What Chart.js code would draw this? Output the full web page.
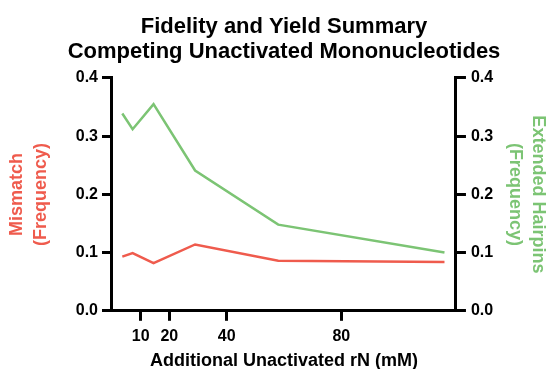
<!DOCTYPE html>
<html>
<head>
<meta charset="utf-8">
<script src="https://cdn.jsdelivr.net/npm/chart.js@4"></script>
<style>
  body { margin: 0; background: #fff; }
  #wrap { width: 547px; height: 369px; }
</style>
</head>
<body>
<div id="wrap"><canvas id="myChart"></canvas></div>
<script>
const concentrations = [3.6, 7.2, 14.5, 29, 58, 116];
const mismatch = [0.093, 0.099, 0.082, 0.114, 0.086, 0.084];
const hairpins = [0.339, 0.312, 0.355, 0.241, 0.148, 0.100];
const xTicks = [10, 20, 40, 80];
const yTicks = [0, 0.1, 0.2, 0.3, 0.4];

const red = '#ef5b4d';
const green = '#7cc474';
const fontFamily = "'Liberation Sans', Arial, sans-serif";
const tickFont = { family: fontFamily, size: 16, weight: 'bold' };

function axisLines() {
    return {
        border: { display: true, color: '#000', width: 3 },
        grid: {
            display: true, drawOnChartArea: false, drawTicks: true,
            color: '#000', lineWidth: 3, tickColor: '#000', tickWidth: 3, tickLength: 10,
            borderColor: '#000', borderWidth: 3
        }
    };
}

new Chart(document.getElementById('myChart'), {
    type: 'line',
    data: {
        datasets: [
            {
                label: 'Mismatch',
                data: concentrations.map((x, i) => ({ x: x, y: mismatch[i] })),
                borderColor: red,
                borderWidth: 2.5,
                pointRadius: 0,
                yAxisID: 'y'
            },
            {
                label: 'Extended Hairpins',
                data: concentrations.map((x, i) => ({ x: x, y: hairpins[i] })),
                borderColor: green,
                borderWidth: 2.5,
                pointRadius: 0,
                yAxisID: 'y1'
            }
        ]
    },
    options: {
        responsive: true,
        maintainAspectRatio: false,
        animation: false,
        // left padding shifts the main title so it centres over the plot
        layout: { padding: { left: 21, right: 0, top: 0, bottom: 0 } },
        scales: {
            x: {
                type: 'linear',
                min: 0,
                max: 120,
                ...axisLines(),
                afterBuildTicks: (axis) => { axis.ticks = xTicks.map(v => ({ value: v })); },
                ticks: { color: '#000', padding: 6, maxRotation: 0, font: tickFont },
                title: {
                    display: true,
                    text: 'Additional Unactivated rN (mM)',
                    color: '#000',
                    padding: { top: 0, bottom: -1 },
                    font: { family: fontFamily, size: 18, weight: 'bold', lineHeight: 1.0 }
                }
            },
            y: {
                position: 'left',
                min: 0,
                max: 0.4,
                ...axisLines(),
                afterBuildTicks: (axis) => { axis.ticks = yTicks.map(v => ({ value: v })); },
                ticks: { color: '#000', padding: 4, font: tickFont, callback: v => v.toFixed(1) },
                title: {
                    display: true,
                    text: ['Mismatch', '(Frequency)'],
                    color: red,
                    padding: { top: -16, bottom: 18.5 },
                    font: { family: fontFamily, size: 18, weight: 'bold', lineHeight: 1.34 }
                }
            },
            y1: {
                position: 'right',
                min: 0,
                max: 0.4,
                ...axisLines(),
                afterBuildTicks: (axis) => { axis.ticks = yTicks.map(v => ({ value: v })); },
                ticks: { color: '#000', padding: 5, font: tickFont, callback: v => v.toFixed(1) },
                title: {
                    display: true,
                    text: ['Extended Hairpins', '(Frequency)'],
                    color: green,
                    padding: { top: -3, bottom: 5 },
                    font: { family: fontFamily, size: 18, weight: 'bold', lineHeight: 1.3 }
                }
            }
        },
        plugins: {
            legend: { display: false },
            tooltip: { enabled: false },
            title: {
                display: true,
                text: ['Fidelity and Yield Summary', 'Competing Unactivated Mononucleotides'],
                color: '#000',
                padding: { top: 14, bottom: 14 },
                font: { family: fontFamily, size: 22, weight: 'bold', lineHeight: 1.136 }
            }
        }
    }
});
</script>
</body>
</html>
